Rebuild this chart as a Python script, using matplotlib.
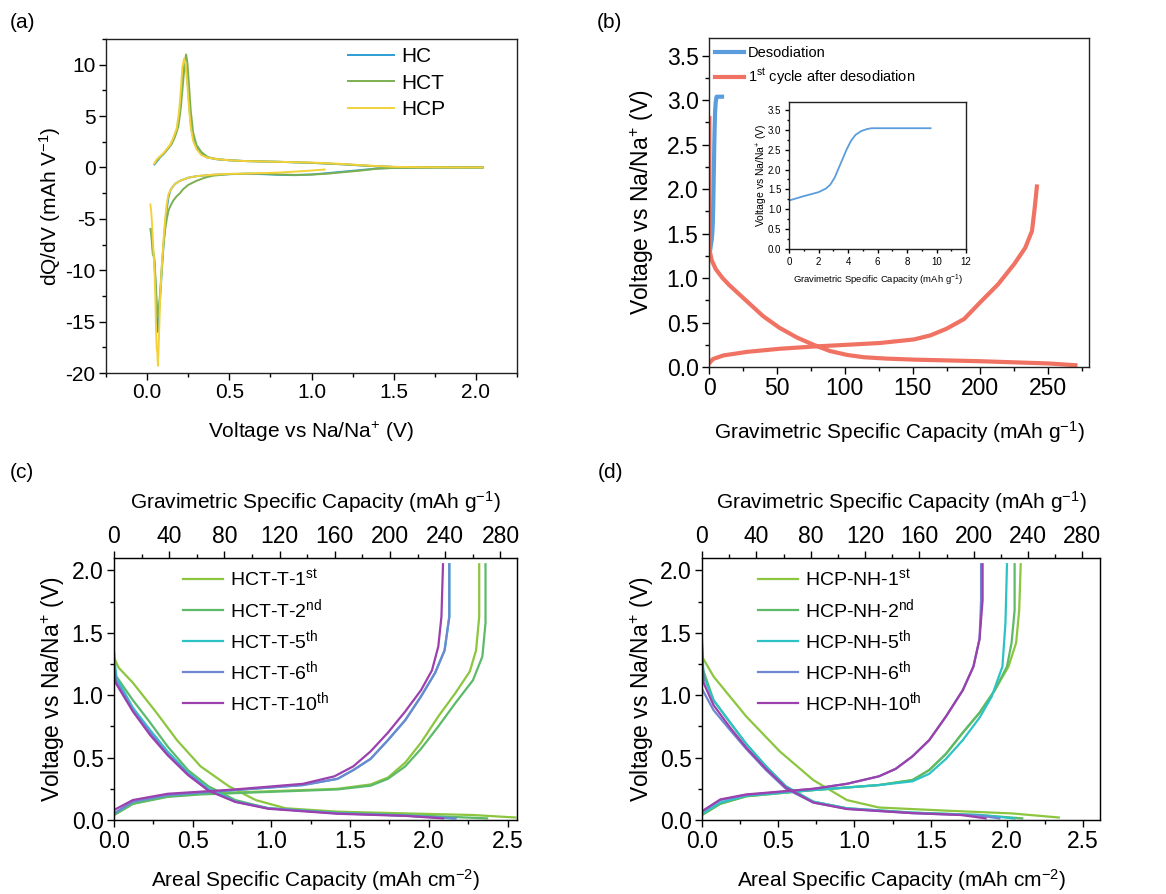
import matplotlib
matplotlib.use("Agg")
import matplotlib.pyplot as plt
from matplotlib.ticker import MultipleLocator

plt.rcParams['font.family'] = ['Liberation Sans', 'DejaVu Sans']
plt.rcParams['mathtext.fontset'] = 'custom'
plt.rcParams['mathtext.rm'] = 'Liberation Sans'
plt.rcParams['mathtext.it'] = 'Liberation Sans:italic'
plt.rcParams['axes.unicode_minus'] = False

W, H = 1166, 894

# ---- (a) dQ/dV ----
hc_up_v = [0.045, 0.06, 0.08, 0.10, 0.12, 0.14, 0.16, 0.18, 0.195, 0.21, 0.22, 0.23, 0.24, 0.25, 0.26, 0.27, 0.29, 0.32, 0.36, 0.42, 0.5, 0.6, 0.8, 1.0, 1.2, 1.35, 1.5, 1.7, 2.04]
hc_up_q = [0.3, 0.6, 1.0, 1.3, 1.7, 2.1, 2.8, 3.6, 5.0, 7.5, 9.3, 10.2, 9.5, 7.5, 5.2, 3.6, 2.3, 1.5, 1.0, 0.8, 0.7, 0.62, 0.55, 0.45, 0.3, 0.15, 0.05, 0.02, 0.0]
hc_dn_v = [2.04, 1.8, 1.5, 1.4, 1.3, 1.2, 1.1, 1.0, 0.9, 0.8, 0.7, 0.6, 0.5, 0.4, 0.3, 0.25, 0.2, 0.17, 0.15, 0.14, 0.13, 0.12, 0.11, 0.10, 0.09, 0.08, 0.07, 0.065, 0.06, 0.055, 0.05, 0.045, 0.04, 0.035, 0.03, 0.025]
hc_dn_q = [0.0, 0.0, -0.03, -0.1, -0.25, -0.4, -0.55, -0.68, -0.75, -0.72, -0.65, -0.62, -0.65, -0.72, -0.85, -1.0, -1.3, -1.6, -2.0, -2.3, -2.9, -4.0, -5.5, -7.5, -10.0, -12.5, -14.5, -16.0, -15.0, -13.0, -11.0, -9.5, -8.5, -8.0, -7.0, -6.0]

hct_up_v = [0.05, 0.07, 0.09, 0.11, 0.13, 0.15, 0.17, 0.19, 0.205, 0.22, 0.23, 0.237, 0.245, 0.255, 0.265, 0.28, 0.3, 0.33, 0.37, 0.43, 0.5, 0.6, 0.8, 1.0, 1.2, 1.35, 1.5, 1.7, 2.04]
hct_up_q = [0.5, 0.9, 1.2, 1.5, 1.9, 2.3, 3.0, 4.0, 5.8, 8.5, 10.3, 11.0, 10.2, 8.0, 5.6, 3.4, 2.2, 1.5, 1.0, 0.8, 0.7, 0.62, 0.55, 0.45, 0.3, 0.15, 0.05, 0.02, 0.0]
hct_dn_v = [2.04, 1.8, 1.5, 1.4, 1.3, 1.2, 1.1, 1.0, 0.9, 0.8, 0.7, 0.6, 0.5, 0.4, 0.35, 0.3, 0.25, 0.22, 0.2, 0.18, 0.16, 0.15, 0.14, 0.13, 0.12, 0.11, 0.10, 0.09, 0.08, 0.07, 0.065, 0.06, 0.055, 0.05, 0.045, 0.04, 0.035, 0.03, 0.025, 0.02]
hct_dn_q = [0.0, 0.0, -0.05, -0.12, -0.3, -0.45, -0.6, -0.7, -0.72, -0.68, -0.6, -0.6, -0.65, -0.8, -1.0, -1.3, -1.7, -2.1, -2.5, -2.8, -3.2, -3.5, -3.8, -4.2, -5.0, -6.0, -7.5, -9.5, -12.0, -14.0, -14.5, -13.5, -12.0, -10.5, -9.0, -8.5, -8.5, -7.5, -6.5, -6.0]

hcp_up_v = [0.045, 0.06, 0.08, 0.10, 0.12, 0.14, 0.16, 0.18, 0.195, 0.205, 0.215, 0.225, 0.235, 0.245, 0.255, 0.265, 0.28, 0.3, 0.33, 0.37, 0.43, 0.5, 0.6, 0.8, 1.0, 1.2, 1.35, 1.5, 1.7, 2.04]
hcp_up_q = [0.4, 0.8, 1.1, 1.4, 1.8, 2.2, 2.9, 3.8, 5.5, 7.5, 9.8, 10.6, 10.0, 8.0, 5.8, 4.0, 2.6, 1.8, 1.2, 0.95, 0.8, 0.7, 0.62, 0.55, 0.48, 0.33, 0.18, 0.06, 0.02, 0.0]
hcp_dn_v = [1.08, 1.0, 0.9, 0.8, 0.7, 0.6, 0.5, 0.4, 0.3, 0.25, 0.2, 0.17, 0.15, 0.13, 0.12, 0.11, 0.10, 0.09, 0.08, 0.075, 0.07, 0.066, 0.062, 0.058, 0.054, 0.05, 0.045, 0.04, 0.035, 0.03, 0.025, 0.02]
hcp_dn_q = [-0.2, -0.3, -0.4, -0.5, -0.55, -0.6, -0.62, -0.7, -0.85, -1.0, -1.3, -1.6, -2.0, -2.6, -3.5, -5.0, -7.0, -9.5, -12.5, -15.0, -17.5, -19.3, -18.0, -17.5, -15.5, -12.5, -10.0, -8.5, -7.0, -5.5, -4.3, -3.6]

# ---- (b) desodiation + first cycle ----
deso_cap = [0.0, 1.0, 2.0, 2.5, 2.8, 3.1, 3.5, 3.9, 4.2, 4.5, 4.9, 5.3, 5.6, 9.6]
deso_v = [1.22, 1.33, 1.43, 1.52, 1.62, 1.80, 2.15, 2.50, 2.72, 2.87, 2.97, 3.02, 3.04, 3.04]
dis1_cap = [0.3, 0.3, 0.6, 2, 5, 10, 15, 25, 40, 52, 65, 77, 89, 102, 114, 130, 151, 200, 250, 270]
dis1_v = [2.8, 1.5, 1.3, 1.2, 1.1, 1.0, 0.92, 0.78, 0.57, 0.44, 0.33, 0.25, 0.18, 0.135, 0.11, 0.095, 0.083, 0.065, 0.04, 0.02]
chg1_cap = [0, 3, 10.6, 28, 52, 77, 102, 126, 151, 163, 175, 188, 200, 213, 225, 233, 238, 240, 241.6]
chg1_v = [0.04, 0.09, 0.13, 0.17, 0.205, 0.23, 0.25, 0.27, 0.31, 0.355, 0.43, 0.54, 0.73, 0.93, 1.16, 1.34, 1.53, 1.79, 2.03]

# ---- (c) HCT-T cycles ----
c_labels = ['HCT-T-1$\\mathregular{^{st}}$', 'HCT-T-2$\\mathregular{^{nd}}$', 'HCT-T-5$\\mathregular{^{th}}$',
            'HCT-T-6$\\mathregular{^{th}}$', 'HCT-T-10$\\mathregular{^{th}}$']
c_dis_q = [
    [0.0, 0.0, 0.03, 0.12, 0.27, 0.40, 0.55, 0.73, 0.90, 1.09, 1.42, 1.85, 2.28, 2.55],
    [0.0, 0.015, 0.12, 0.23, 0.34, 0.47, 0.60, 0.77, 0.98, 1.42, 1.85, 2.37],
    [0.0, 0.015, 0.12, 0.23, 0.34, 0.47, 0.60, 0.77, 0.98, 1.42, 1.85, 2.16],
    [0.0, 0.01, 0.12, 0.23, 0.34, 0.47, 0.60, 0.77, 0.98, 1.42, 1.85, 2.17],
    [0.0, 0.01, 0.12, 0.23, 0.34, 0.47, 0.60, 0.77, 0.98, 1.42, 1.85, 2.09],
]
c_dis_v = [
    [1.70, 1.30, 1.22, 1.10, 0.86, 0.64, 0.43, 0.27, 0.16, 0.094, 0.067, 0.053, 0.04, 0.02],
    [1.25, 1.15, 0.96, 0.78, 0.59, 0.40, 0.27, 0.16, 0.094, 0.059, 0.04, 0.013],
    [1.33, 1.14, 0.90, 0.72, 0.55, 0.38, 0.25, 0.15, 0.094, 0.055, 0.036, 0.013],
    [1.35, 1.12, 0.88, 0.70, 0.53, 0.37, 0.24, 0.147, 0.094, 0.053, 0.035, 0.013],
    [1.20, 1.10, 0.87, 0.68, 0.52, 0.36, 0.235, 0.145, 0.09, 0.05, 0.033, 0.013],
]
c_chg_q = [
    [0.0, 0.12, 0.34, 0.55, 0.98, 1.42, 1.63, 1.74, 1.85, 1.95, 2.06, 2.17, 2.26, 2.30, 2.32, 2.32],
    [0.0, 0.12, 0.34, 0.55, 0.98, 1.42, 1.63, 1.74, 1.85, 1.95, 2.06, 2.17, 2.28, 2.34, 2.36, 2.36],
    [0.0, 0.12, 0.34, 0.77, 1.20, 1.42, 1.52, 1.63, 1.74, 1.85, 1.95, 2.04, 2.10, 2.13, 2.13],
    [0.0, 0.12, 0.34, 0.77, 1.20, 1.42, 1.52, 1.63, 1.74, 1.85, 1.95, 2.04, 2.10, 2.13, 2.13],
    [0.0, 0.12, 0.34, 0.77, 1.20, 1.40, 1.52, 1.63, 1.74, 1.85, 1.95, 2.02, 2.06, 2.08, 2.09],
]
c_chg_v = [
    [0.04, 0.13, 0.19, 0.21, 0.23, 0.25, 0.285, 0.34, 0.46, 0.62, 0.83, 1.02, 1.19, 1.36, 1.63, 2.05],
    [0.04, 0.13, 0.185, 0.205, 0.225, 0.245, 0.275, 0.33, 0.43, 0.57, 0.75, 0.94, 1.12, 1.31, 1.58, 2.05],
    [0.05, 0.147, 0.20, 0.24, 0.28, 0.33, 0.40, 0.49, 0.64, 0.80, 0.99, 1.18, 1.36, 1.63, 2.05],
    [0.053, 0.147, 0.20, 0.24, 0.28, 0.33, 0.40, 0.49, 0.64, 0.80, 0.99, 1.18, 1.36, 1.63, 2.05],
    [0.08, 0.16, 0.21, 0.245, 0.29, 0.35, 0.43, 0.55, 0.70, 0.87, 1.04, 1.20, 1.39, 1.63, 2.05],
]

# ---- (d) HCP-NH cycles ----
d_labels = ['HCP-NH-1$\\mathregular{^{st}}$', 'HCP-NH-2$\\mathregular{^{nd}}$', 'HCP-NH-5$\\mathregular{^{th}}$',
            'HCP-NH-6$\\mathregular{^{th}}$', 'HCP-NH-10$\\mathregular{^{th}}$']
d_dis_q = [
    [0.0, 0.076, 0.29, 0.51, 0.73, 0.95, 1.16, 1.60, 2.03, 2.34],
    [0.0, 0.076, 0.185, 0.29, 0.42, 0.55, 0.73, 0.95, 1.38, 1.82, 2.10],
    [0.0, 0.01, 0.076, 0.185, 0.29, 0.42, 0.55, 0.73, 0.95, 1.38, 1.82, 2.05],
    [0.0, 0.076, 0.185, 0.29, 0.42, 0.55, 0.73, 0.95, 1.38, 1.82, 1.95],
    [0.0, 0.01, 0.076, 0.185, 0.29, 0.42, 0.55, 0.73, 0.95, 1.38, 1.70, 1.86],
]
d_dis_v = [
    [1.31, 1.15, 0.83, 0.55, 0.32, 0.16, 0.10, 0.075, 0.053, 0.02],
    [1.23, 0.96, 0.78, 0.61, 0.43, 0.27, 0.147, 0.094, 0.059, 0.04, 0.013],
    [1.45, 1.15, 0.96, 0.78, 0.61, 0.43, 0.27, 0.147, 0.094, 0.059, 0.04, 0.013],
    [1.05, 0.88, 0.72, 0.57, 0.40, 0.25, 0.14, 0.09, 0.055, 0.035, 0.013],
    [1.40, 1.10, 0.92, 0.74, 0.58, 0.41, 0.26, 0.14, 0.088, 0.055, 0.04, 0.013],
]
d_chg_q = [
    [0.0, 0.12, 0.29, 0.73, 1.16, 1.38, 1.49, 1.60, 1.71, 1.82, 1.92, 2.01, 2.06, 2.08, 2.09],
    [0.0, 0.12, 0.29, 0.73, 1.16, 1.38, 1.49, 1.60, 1.71, 1.82, 1.92, 2.00, 2.03, 2.05, 2.05],
    [0.0, 0.12, 0.29, 0.73, 1.16, 1.38, 1.49, 1.60, 1.71, 1.82, 1.90, 1.97, 1.99, 2.00],
    [0.0, 0.12, 0.29, 0.73, 0.95, 1.16, 1.27, 1.38, 1.49, 1.60, 1.71, 1.78, 1.82, 1.83, 1.83],
    [0.0, 0.12, 0.29, 0.73, 0.95, 1.16, 1.27, 1.38, 1.49, 1.60, 1.71, 1.78, 1.82, 1.84, 1.84],
]
d_chg_v = [
    [0.04, 0.13, 0.19, 0.24, 0.28, 0.32, 0.40, 0.53, 0.70, 0.86, 1.04, 1.23, 1.42, 1.68, 2.05],
    [0.04, 0.13, 0.19, 0.24, 0.28, 0.32, 0.40, 0.53, 0.70, 0.86, 1.04, 1.23, 1.42, 1.68, 2.05],
    [0.05, 0.14, 0.195, 0.24, 0.28, 0.31, 0.37, 0.49, 0.64, 0.82, 0.99, 1.23, 1.58, 2.05],
    [0.067, 0.16, 0.20, 0.25, 0.29, 0.35, 0.41, 0.51, 0.64, 0.83, 1.04, 1.23, 1.45, 1.76, 2.05],
    [0.07, 0.165, 0.205, 0.25, 0.29, 0.35, 0.41, 0.51, 0.64, 0.83, 1.04, 1.23, 1.45, 1.76, 2.05],
]

cycle_colors = ['#8cc63f', '#5cba68', '#2cc2c6', '#6f86d2', '#9b40ad']

VOLT = 'Voltage vs Na/Na$\\mathregular{^{+}}$ (V)'
GRAV = 'Gravimetric Specific Capacity (mAh g$\\mathregular{^{-1}}$)'


def add_ax(fig, left, top, right, bottom):
    return fig.add_axes([left / W, 1 - bottom / H, (right - left) / W, (bottom - top) / H])


def style(ax, size=13):
    ax.tick_params(which='major', direction='out', length=5, width=1, pad=2.5, labelsize=size)
    ax.tick_params(which='minor', direction='out', length=3, width=1)
    ax.tick_params(top=False, right=False, which='both')
    for s in ax.spines.values():
        s.set_linewidth(1)
        s.set_color('#222222')


def labels(ax, xl, yl, xs, ys, xy, yx):
    ax.set_xlabel(xl, fontsize=xs, va='center')
    ax.set_ylabel(yl, fontsize=ys, va='center')
    ax.xaxis.set_label_coords(0.5, xy)
    ax.yaxis.set_label_coords(yx, 0.5)


fig = plt.figure(figsize=(W / 100, H / 100), dpi=100)

# (a)
ax = add_ax(fig, 106, 39, 517, 373)
for (uv, uq, dv, dq), col, lab in [((hc_up_v, hc_up_q, hc_dn_v, hc_dn_q), '#2f9fd3', 'HC'),
                                   ((hct_up_v, hct_up_q, hct_dn_v, hct_dn_q), '#7caf50', 'HCT'),
                                   ((hcp_up_v, hcp_up_q, hcp_dn_v, hcp_dn_q), '#f3d13a', 'HCP')]:
    ax.plot(uv, uq, color=col, lw=1.4, label=lab)
    ax.plot(dv, dq, color=col, lw=1.4)
ax.set_xlim(-0.25, 2.25)
ax.set_ylim(-20, 12.5)
ax.xaxis.set_major_locator(MultipleLocator(0.5))
ax.xaxis.set_minor_locator(MultipleLocator(0.25))
ax.yaxis.set_major_locator(MultipleLocator(5))
ax.yaxis.set_minor_locator(MultipleLocator(2.5))
style(ax, 15)
labels(ax, VOLT, 'dQ/dV (mAh V$\\mathregular{^{-1}}$)', 15, 15, -0.177, -0.135)
ax.legend(loc='upper left', bbox_to_anchor=(0.589, 0.975), frameon=False, fontsize=15,
          handlelength=2.2, labelspacing=0.35, handletextpad=0.35, borderpad=0, borderaxespad=0)
fig.text(10 / W, 1 - 22 / H, '(a)', fontsize=15, va='center')

# (b)
ax = add_ax(fig, 709, 38, 1089, 367)
ax.plot(deso_cap, deso_v, color='#5b9ddc', lw=3, label='Desodiation')
ax.plot(dis1_cap, dis1_v, color='#f07262', lw=3, label='1$\\mathregular{^{st}}$ cycle after desodiation')
ax.plot(chg1_cap, chg1_v, color='#f07262', lw=3)
ax.set_xlim(0, 280)
ax.set_ylim(0, 3.7)
ax.xaxis.set_major_locator(MultipleLocator(50))
ax.xaxis.set_minor_locator(MultipleLocator(25))
ax.yaxis.set_major_locator(MultipleLocator(0.5))
ax.yaxis.set_minor_locator(MultipleLocator(0.25))
style(ax, 16.5)
labels(ax, GRAV, VOLT, 15, 16.5, -0.198, -0.176)
ax.legend(loc='upper left', bbox_to_anchor=(0.016, 0.975), frameon=False, fontsize=10.5,
          handlelength=2.0, labelspacing=0.45, handletextpad=0.25, borderpad=0, borderaxespad=0)
fig.text(597 / W, 1 - 22 / H, '(b)', fontsize=15, va='center')

ins = add_ax(fig, 789, 102, 966, 249)
ins.plot(deso_cap, deso_v, color='#5b9ddc', lw=1.3)
ins.set_xlim(0, 12)
ins.set_ylim(0, 3.7)
ins.xaxis.set_major_locator(MultipleLocator(2))
ins.xaxis.set_minor_locator(MultipleLocator(1))
ins.yaxis.set_major_locator(MultipleLocator(0.5))
ins.yaxis.set_minor_locator(MultipleLocator(0.25))
style(ins, 7)
ins.tick_params(which='major', length=3)
ins.tick_params(which='minor', length=1.5)
labels(ins, GRAV, VOLT, 6.8, 7.5, -0.21, -0.15)


def cycle_panel(left, right, names, dis_q, dis_v, chg_q, chg_v, xmax, gmax, tag, legx):
    ax = add_ax(fig, left, 558, right, 820)
    for i in range(len(names)):
        ax.plot(dis_q[i], dis_v[i], color=cycle_colors[i], lw=1.6, label=names[i])
        ax.plot(chg_q[i], chg_v[i], color=cycle_colors[i], lw=1.6)
    ax.set_xlim(0, xmax)
    ax.set_ylim(0, 2.1)
    ax.xaxis.set_major_locator(MultipleLocator(0.5))
    ax.xaxis.set_minor_locator(MultipleLocator(0.25))
    ax.yaxis.set_major_locator(MultipleLocator(0.5))
    ax.yaxis.set_minor_locator(MultipleLocator(0.25))
    style(ax, 16.5)
    labels(ax, 'Areal Specific Capacity (mAh cm$\\mathregular{^{-2}}$)', VOLT, 15, 16.5, -0.229, -0.151)
    top = ax.twiny()
    top.set_xlim(0, gmax)
    top.xaxis.set_major_locator(MultipleLocator(40))
    top.xaxis.set_minor_locator(MultipleLocator(20))
    top.tick_params(which='major', direction='out', length=5, width=1, pad=2.5, labelsize=16.5)
    top.tick_params(which='minor', direction='out', length=3, width=1)
    top.set_xlabel(GRAV, fontsize=15, va='center')
    top.xaxis.set_label_coords(0.5, 1.214)
    ax.legend(loc='upper left', bbox_to_anchor=(legx, 0.96), frameon=False, fontsize=14,
              handlelength=2.05, labelspacing=0.36, handletextpad=0.35, borderpad=0, borderaxespad=0)
    fig.text((left - 104) / W, 1 - 473 / H, tag, fontsize=15, va='center')


cycle_panel(114, 517, c_labels, c_dis_q, c_dis_v, c_chg_q, c_chg_v, 2.56, 292, '(c)', 0.171)
cycle_panel(702, 1100, d_labels, d_dis_q, d_dis_v, d_chg_q, d_chg_v, 2.61, 293, '(d)', 0.141)

fig.savefig('out.png', dpi=100)
